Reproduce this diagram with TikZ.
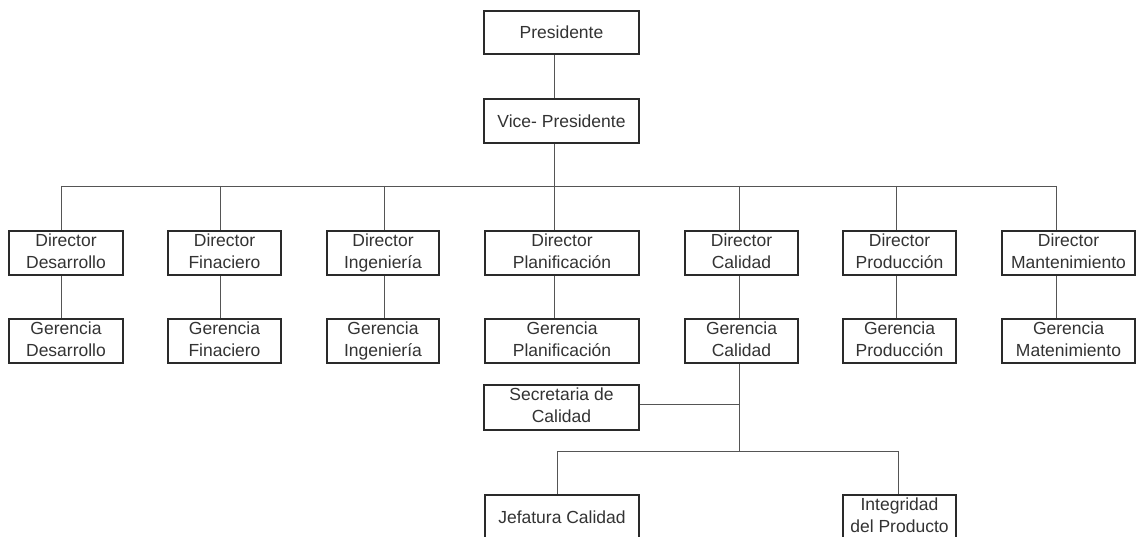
\documentclass[tikz,border=0pt]{standalone}
\usepackage{fontspec}
\setmainfont{Liberation Sans}
\definecolor{boxc}{HTML}{2A2A2A}
\definecolor{linec}{HTML}{555555}
\definecolor{txtc}{HTML}{333333}
\newcommand\topstrut{\rule{0pt}{17.4pt}}
\newcommand\botstrut{\rule[-4.6pt]{0pt}{4.6pt}}
\begin{document}
\begin{tikzpicture}[x=1pt,y=-1pt,
  box/.style={draw=boxc,line width=1.6pt,fill=white,text=txtc,align=center,
    inner sep=0pt,minimum height=44pt,
    font=\fontsize{17.5}{22}\selectfont,
    execute at begin node=\topstrut, execute at end node=\botstrut},
  conn/.style={draw=linec,line width=0.9pt}]
\useasboundingbox (0,0) rectangle (1136,537);
% top
\node[box,minimum width=155pt,minimum height=43pt] (pres) at (561.5,32.5) {Presidente};
\node[box,minimum width=155pt] (vp) at (561.5,121) {Vice- Presidente};
% directors
\node[box,minimum width=114pt] (d1) at (66,253) {Director\\Desarrollo};
\node[box,minimum width=113pt] (d2) at (224.5,253) {Director\\Finaciero};
\node[box,minimum width=112pt] (d3) at (383,253) {Director\\Ingeniería};
\node[box,minimum width=154pt] (d4) at (562,253) {Director\\Planificación};
\node[box,minimum width=113pt] (d5) at (741.5,253) {Director\\Calidad};
\node[box,minimum width=113pt] (d6) at (899.5,253) {Director\\Producción};
\node[box,minimum width=133pt] (d7) at (1068.5,253) {Director\\Mantenimiento};
% gerencias
\node[box,minimum width=114pt] (g1) at (66,341) {Gerencia\\Desarrollo};
\node[box,minimum width=113pt] (g2) at (224.5,341) {Gerencia\\Finaciero};
\node[box,minimum width=112pt] (g3) at (383,341) {Gerencia\\Ingeniería};
\node[box,minimum width=154pt] (g4) at (562,341) {Gerencia\\Planificación};
\node[box,minimum width=113pt] (g5) at (741.5,341) {Gerencia\\Calidad};
\node[box,minimum width=113pt] (g6) at (899.5,341) {Gerencia\\Producción};
\node[box,minimum width=133pt] (g7) at (1068.5,341) {Gerencia\\Matenimiento};
% calidad sub
\node[box,minimum width=155pt,minimum height=45pt] (sec) at (561.5,407.5) {Secretaria de\\Calidad};
\node[box,minimum width=154pt] (jef) at (562,517) {Jefatura Calidad};
\node[box,minimum width=113pt] (integ) at (899.5,517) {Integridad\\del Producto};
% coordinates
\coordinate (top) at (554,186);
\coordinate (b1) at (61,186);
\coordinate (b2) at (220,186);
\coordinate (b3) at (384,186);
\coordinate (b4) at (554,186);
\coordinate (b5) at (739,186);
\coordinate (b6) at (896,186);
\coordinate (b7) at (1056,186);
\coordinate (secj) at (739,404);
\coordinate (qbus) at (739,451);
\coordinate (jx) at (557,451);
\coordinate (ix) at (898,451);
% connectors
\draw[conn] (pres.south -| top) -- (vp.north -| top);
\draw[conn] (vp.south -| top) -- (top);
\draw[conn] (b1) -- (b7);
\foreach \i in {1,...,7}{
  \draw[conn] (b\i) -- (d\i.north -| b\i);
  \draw[conn] (d\i.south -| b\i) -- (g\i.north -| b\i);
}
\draw[conn] (g5.south -| b5) -- (qbus);
\draw[conn] (sec.east |- secj) -- (secj);
\draw[conn] (jx) -- (ix);
\draw[conn] (jx) -- (jef.north -| jx);
\draw[conn] (ix) -- (integ.north -| ix);
\end{tikzpicture}
\end{document}
